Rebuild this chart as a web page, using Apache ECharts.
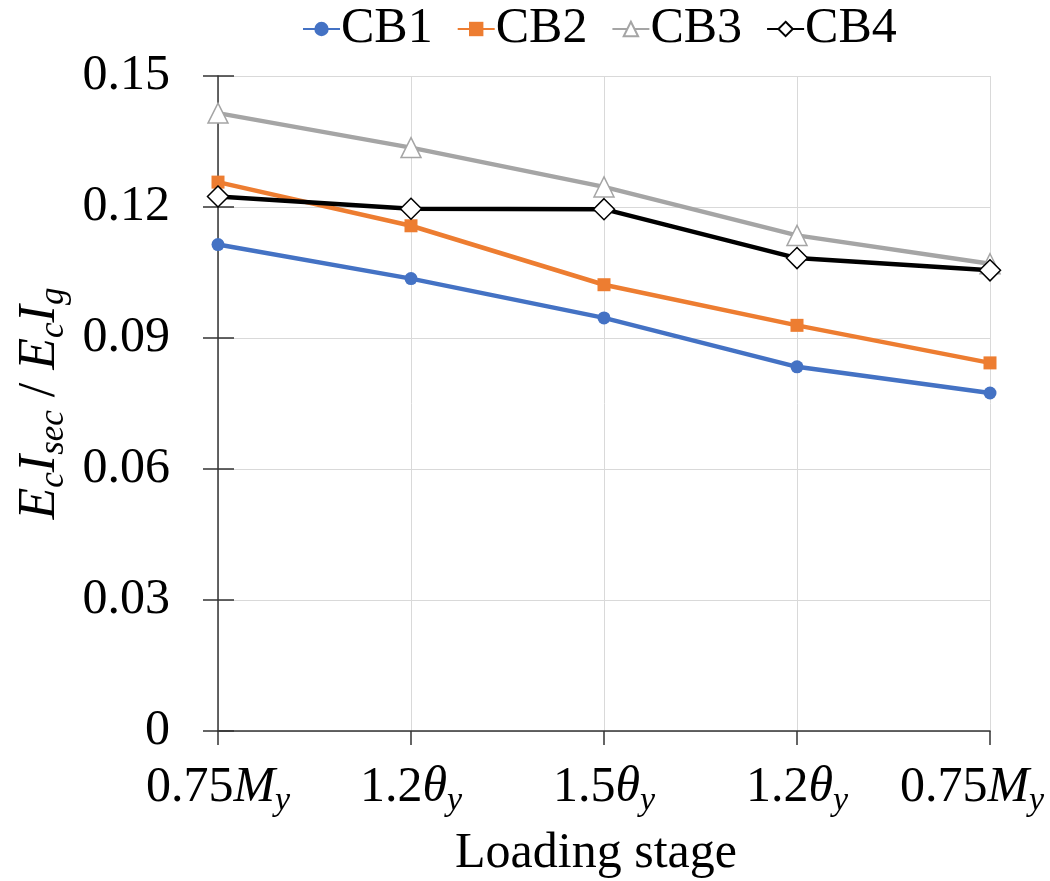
<!DOCTYPE html>
<html><head><meta charset="utf-8">
<script src="https://cdn.jsdelivr.net/npm/echarts@6/dist/echarts.min.js"></script>
<style>html,body{margin:0;padding:0;background:#fff}#c{width:1050px;height:881px}</style>
</head><body><div id="c"></div>
<script>
const categoryNums = ['0.75', '1.2', '1.5', '1.2', '0.75'];
const categorySyms = ['M', 'θ', 'θ', 'θ', 'M'];
const yTicks = [0, 0.03, 0.06, 0.09, 0.12, 0.15];
const cb1 = [0.1114, 0.1036, 0.0946, 0.0834, 0.0774];
const cb2 = [0.1257, 0.1157, 0.1022, 0.0929, 0.0843];
const cb3 = [0.1415, 0.1336, 0.1246, 0.1135, 0.1070];
const cb4 = [0.1224, 0.1196, 0.1195, 0.1083, 0.1055];

const FONT = 'Liberation Serif';
const cats = categoryNums.map((n, i) => n + '|' + categorySyms[i] + '|' + i);
const chart = echarts.init(document.getElementById('c'));
const mk = (name, data, color, symbol, size, fill, border) => ({
  name, type: 'line', data, symbol, symbolSize: size,
  lineStyle: { color, width: 4.5 },
  itemStyle: { color: fill, borderColor: border, borderWidth: fill === '#fff' ? 1.5 : 0 },
  z: 5
});
chart.setOption({
  animation: false,
  textStyle: { fontFamily: FONT },
  legend: {
    top: 4, left: 302, itemWidth: 37, itemHeight: 18, itemGap: 24, padding: 0,
    textStyle: { fontFamily: FONT, fontSize: 50, color: '#000', padding: [0, 0, 0, -4] },
    data: ['CB1', 'CB2', 'CB3', 'CB4']
  },
  grid: { left: 218, right: 60, top: 76, bottom: 150, containLabel: false, outerBoundsMode: 'none' },
  xAxis: {
    type: 'category', data: cats, boundaryGap: false,
    axisLine: { lineStyle: { color: '#333', width: 1.5 } },
    axisTick: { alignWithLabel: true, length: 14, lineStyle: { color: '#333', width: 1.5 } },
    splitLine: { show: true, lineStyle: { color: '#d9d9d9', width: 1 } },
    axisLabel: {
      margin: 27,
      formatter: (v, idx) => {
        const p = v.split('|');
        const last = Number(p[2]) === categoryNums.length - 1;
        return '{n|' + p[0] + '}{i|' + p[1] + '}{s|y}' + (last ? '{pad|}' : '');
      },
      rich: {
        n: { fontFamily: FONT, fontSize: 50, color: '#000' },
        i: { fontFamily: FONT, fontSize: 50, fontStyle: 'italic', color: '#000' },
        s: { fontFamily: FONT, fontSize: 34, fontStyle: 'italic', color: '#000', padding: [26, 0, 0, 0] },
        pad: { width: 36 }
      }
    },
    name: 'Loading stage', nameLocation: 'middle', nameGap: 98,
    nameTextStyle: { fontFamily: FONT, fontSize: 50, color: '#000', padding: [0, 16, 0, 0] }
  },
  yAxis: [{
    type: 'value', min: 0, max: 0.15, interval: 0.03,
    axisLine: { show: true, lineStyle: { color: '#333', width: 1.5 } },
    axisTick: { show: true, length: 15, lineStyle: { color: '#333', width: 1.5 } },
    splitLine: { show: true, lineStyle: { color: '#d9d9d9', width: 1 } },
    axisLabel: {
      margin: 48, fontFamily: FONT, fontSize: 50, color: '#000',
      formatter: v => { const t = yTicks.find(x => Math.abs(x - v) < 1e-9); return t === 0 ? '0' : String(t); }
    },
    name: '{i|E}{s|c}{i|I}{s|sec}{n| / }{i|E}{s|c}{i|I}{s|g}',
    nameLocation: 'middle', nameGap: 126, nameRotate: 90,
    nameTextStyle: {
      rich: {
        i: { fontFamily: FONT, fontSize: 52, fontStyle: 'italic', color: '#000' },
        n: { fontFamily: FONT, fontSize: 52, color: '#000' },
        s: { fontFamily: FONT, fontSize: 35, fontStyle: 'italic', color: '#000', padding: [28, 0, 0, 0] }
      }
    }
  }, {
    type: 'value', min: 0, max: 0.15, interval: 0.03, position: 'left',
    axisLine: { show: false },
    axisTick: { show: true, inside: true, length: 16, lineStyle: { color: '#333', width: 1.5 } },
    axisLabel: { show: false }, splitLine: { show: false }
  }],
  series: [
    mk('CB1', cb1, '#4472C4', 'circle', 13, '#4472C4', '#4472C4'),
    mk('CB2', cb2, '#ED7D31', 'rect', 13, '#ED7D31', '#ED7D31'),
    mk('CB3', cb3, '#A5A5A5', 'triangle', 20, '#fff', '#A5A5A5'),
    mk('CB4', cb4, '#000000', 'diamond', 21, '#fff', '#000')
  ]
});
</script></body></html>
